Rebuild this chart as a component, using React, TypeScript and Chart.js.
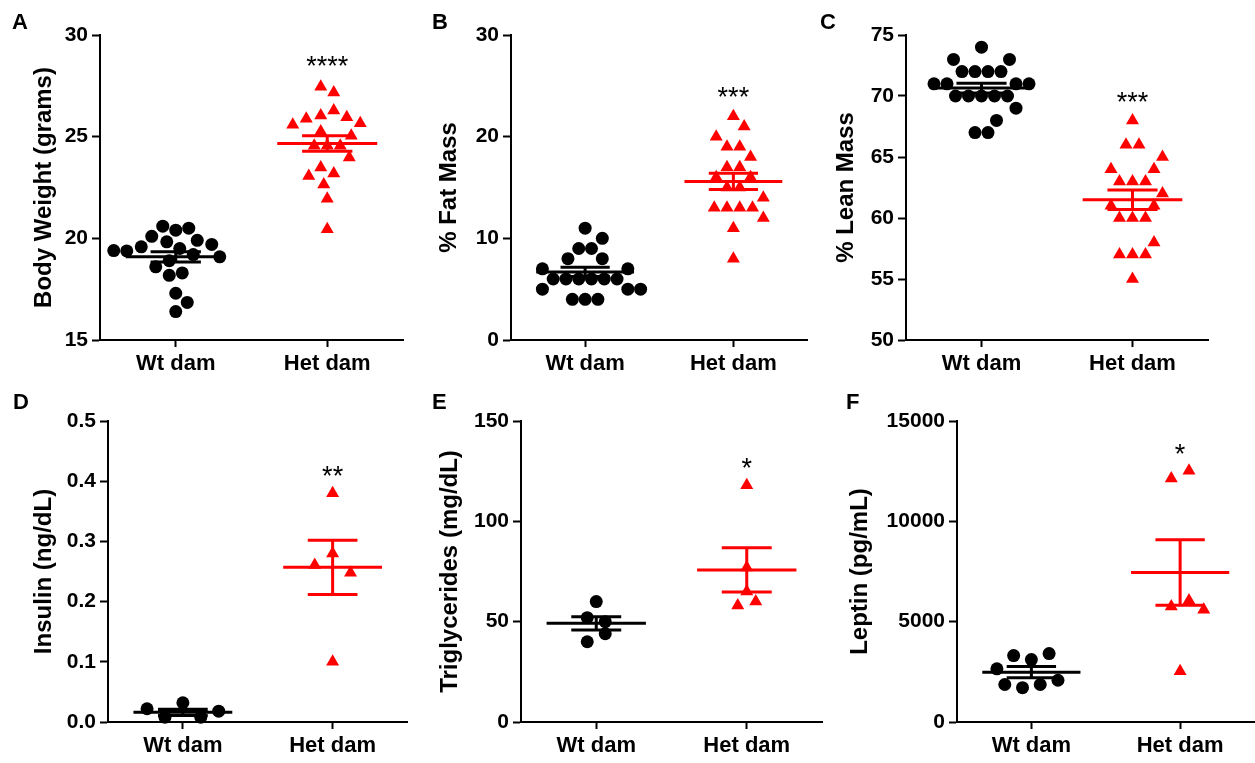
import React, { useEffect, useRef } from 'react';
import { Chart, registerables } from 'chart.js';

Chart.register(...registerables);

const FONT = "'Liberation Sans', Arial, Helvetica, sans-serif";
Chart.defaults.font.family = FONT;

// ---------- data ----------
const groupLabels = ['Wt dam', 'Het dam'];
const groupColors = ['#000000', '#ff0000'];

// A: body weight (grams)
const bodyWeightWt = [20.1, 20.6, 20.4, 20.5, 19.83, 19.58, 19.4, 19.38, 19.5, 19.7, 19.9, 19.2, 18.9, 19.09, 18.18, 18.3, 18.6, 16.85, 17.3, 16.4];
const bodyWeightHet = [27.45, 27.17, 26.04, 25.88, 25.96, 26.29, 25.58, 25.66, 25.26, 25.05, 24.55, 24.55, 24.55, 23.48, 23.97, 23.06, 22.65, 23.19, 21.95, 20.45];
const bodyWeightMean = [19.09, 24.66];
const bodyWeightSem = [0.25, 0.38];
const bodyWeightTicks = [15, 20, 25, 30];

// B: % fat mass
const fatWt = [11, 10, 9, 9, 8, 8, 7, 7, 6, 6, 6, 6, 6, 6, 5, 5, 5, 4, 4, 4];
const fatHet = [22, 21, 20, 19, 19, 18, 17, 17, 16, 16, 15, 15, 14, 13, 13, 13, 13, 12, 11, 8];
const fatMean = [6.7, 15.6];
const fatSem = [0.45, 0.8];
const fatTicks = [0, 10, 20, 30];

// C: % lean mass
const leanWt = [74, 73, 73, 72, 72, 72, 72, 71, 71, 71, 71, 70, 70, 70, 70, 70, 69, 68, 67, 67];
const leanHet = [68, 66, 66, 65, 64, 64, 63, 63, 63, 62, 61, 61, 60, 60, 60, 58, 57, 57, 57, 55];
const leanMean = [70.65, 61.5];
const leanSem = [0.4, 0.8];
const leanTicks = [50, 55, 60, 65, 70, 75];

// D: insulin (ng/dL)
const insulinWt = [0.022, 0.008, 0.032, 0.008, 0.018];
const insulinHet = [0.38, 0.261, 0.28, 0.248, 0.1];
const insulinMean = [0.016, 0.257];
const insulinSem = [0.005, 0.045];
const insulinTicks = [0, 0.1, 0.2, 0.3, 0.4, 0.5];

// E: triglycerides (mg/dL)
const trigWt = [60, 52, 50, 40, 44];
const trigHet = [118, 77, 65, 58, 60];
const trigMean = [49.2, 75.8];
const trigSem = [3.3, 11];
const trigTicks = [0, 50, 100, 150];

// F: leptin (pg/mL)
const leptinWt = [2650, 3310, 3110, 3410, 1870, 1710, 1870, 2080];
const leptinHet = [12140, 12520, 5760, 5600, 6060, 2530];
const leptinMean = [2480, 7450];
const leptinSem = [280, 1630];
const leptinTicks = [0, 5000, 10000, 15000];

const sigLabels = ['****', '***', '***', '**', '*', '*'];
const sigValues = [28.8, 24.5, 70, 0.42, 130, 13680];

// ---------- layout / style ----------
type Box = { x: number; y: number; w: number; h: number };
type Area = { l: number; t: number; r: number; b: number };
type Swarm = { gap: number; avoid: number; bin: number };
type PanelDef = {
  letter: string;
  title: string;
  wt: number[];
  het: number[];
  mean: number[];
  sem: number[];
  ticks: number[];
  fmt: (v: number) => string;
  sig: string;
  sigY: number;
  box: Box;
  area: Area;
  titleX: number;
  letterX: number;
  letterY: number;
  swarm: Swarm;
};

const X_MIN = 0.5;
const X_MAX = 2.5;
const DOT = 13; // marker diameter, px
const MEAN_HALF = 0.33;
const CAP_HALF = 0.166;
const TICK_FONT = 21;
const XTICK_FONT = 22;
const TITLE_FONT = 24;
const STAR_FONT = 27;

const intFmt = (v: number) => String(Math.round(v));
const topSwarm: Swarm = { gap: 13, avoid: 15, bin: 6 };

const panels: PanelDef[] = [
  { letter: 'A', title: 'Body Weight (grams)', wt: bodyWeightWt, het: bodyWeightHet, mean: bodyWeightMean, sem: bodyWeightSem, ticks: bodyWeightTicks, fmt: intFmt, sig: sigLabels[0], sigY: sigValues[0],
    box: { x: 0, y: 0, w: 415, h: 380 }, area: { l: 100, t: 35, r: 403, b: 340 }, titleX: 44, letterX: 12, letterY: 29, swarm: topSwarm },
  { letter: 'B', title: '% Fat Mass', wt: fatWt, het: fatHet, mean: fatMean, sem: fatSem, ticks: fatTicks, fmt: intFmt, sig: sigLabels[1], sigY: sigValues[1],
    box: { x: 420, y: 0, w: 395, h: 380 }, area: { l: 511, t: 35, r: 813, b: 340 }, titleX: 449, letterX: 432, letterY: 29, swarm: topSwarm },
  { letter: 'C', title: '% Lean Mass', wt: leanWt, het: leanHet, mean: leanMean, sem: leanSem, ticks: leanTicks, fmt: intFmt, sig: sigLabels[2], sigY: sigValues[2],
    box: { x: 815, y: 0, w: 440, h: 380 }, area: { l: 906, t: 35, r: 1208, b: 340 }, titleX: 846, letterX: 820, letterY: 29, swarm: topSwarm },
  { letter: 'D', title: 'Insulin (ng/dL)', wt: insulinWt, het: insulinHet, mean: insulinMean, sem: insulinSem, ticks: insulinTicks, fmt: (v) => v.toFixed(1), sig: sigLabels[3], sigY: sigValues[3],
    box: { x: 0, y: 380, w: 415, h: 383 }, area: { l: 108, t: 421, r: 409, b: 722 }, titleX: 44, letterX: 13, letterY: 409, swarm: { gap: 18, avoid: 12, bin: 20 } },
  { letter: 'E', title: 'Triglycerides (mg/dL)', wt: trigWt, het: trigHet, mean: trigMean, sem: trigSem, ticks: trigTicks, fmt: intFmt, sig: sigLabels[4], sigY: sigValues[4],
    box: { x: 420, y: 380, w: 410, h: 383 }, area: { l: 521, t: 421, r: 822, b: 722 }, titleX: 450, letterX: 432, letterY: 409, swarm: { gap: 18, avoid: 12, bin: 8.5 } },
  { letter: 'F', title: 'Leptin (pg/mL)', wt: leptinWt, het: leptinHet, mean: leptinMean, sem: leptinSem, ticks: leptinTicks, fmt: intFmt, sig: sigLabels[5], sigY: sigValues[5],
    box: { x: 830, y: 380, w: 432, h: 383 }, area: { l: 957, t: 421, r: 1259, b: 722 }, titleX: 860, letterX: 846, letterY: 409, swarm: { gap: 18, avoid: 18, bin: 8.5 } },
];

// Prism-like column scatter: points binned into rows, spread sideways to avoid overlap
function swarmOffsets(values: number[], pxPerUnit: number, sw: Swarm): number[] {
  const n = values.length;
  const ys = values.map((v) => v * pxPerUnit);
  const order = values.map((_, i) => i).sort((a, b) => values[b] - values[a] || a - b);
  const rows: number[][] = [];
  let start = Infinity;
  for (const i of order) {
    if (rows.length && start - ys[i] <= sw.bin) rows[rows.length - 1].push(i);
    else {
      rows.push([i]);
      start = ys[i];
    }
  }
  rows.forEach((r) => r.sort((a, b) => a - b));
  const rowOrder = rows.map((_, k) => k).sort((a, b) => rows[b].length - rows[a].length || a - b);
  const xs: number[] = new Array(n).fill(0);
  const placed: number[] = [];
  for (const k of rowOrder) {
    const r = rows[k];
    const m = r.length;
    const ideals = r.map((_, q) => (q - (m - 1) / 2) * sw.gap);
    const seq = ideals.map((_, q) => q).sort((a, b) => Math.abs(ideals[a]) - Math.abs(ideals[b]) || a - b);
    for (const q of seq) {
      const i = r[q];
      const ideal = ideals[q];
      const dir = ideal < 0 ? -1 : 1;
      const ok = (x: number) =>
        placed.every((j) => {
          const dx = x - xs[j];
          const dy = ys[i] - ys[j];
          const minD = r.includes(j) ? sw.gap : sw.avoid;
          return dx * dx + dy * dy >= minD * minD * 0.95;
        });
      let chosen = ideal;
      for (let s = 0; s < 300; s += 0.5) {
        const cands = Math.abs(ideal) < 1e-9 ? [s, -s] : [ideal + dir * s];
        const f = cands.find(ok);
        if (f !== undefined) {
          chosen = f;
          break;
        }
      }
      xs[i] = chosen;
      placed.push(i);
    }
  }
  return xs;
}

function buildConfig(p: PanelDef): any {
  const yMin = p.ticks[0];
  const yMax = p.ticks[p.ticks.length - 1];
  const plotH = p.area.b - p.area.t;
  const plotW = p.area.r - p.area.l;
  const yPx = plotH / (yMax - yMin);
  const xPx = plotW / (X_MAX - X_MIN);
  const series = [p.wt, p.het];
  const datasets = series.map((vals, g) => {
    const offs = swarmOffsets(vals, yPx, p.swarm);
    return {
      label: groupLabels[g],
      data: vals.map((v, i) => ({ x: g + 1 + offs[i] / xPx, y: v })),
      pointStyle: g === 0 ? 'circle' : 'triangle',
      pointRadius: g === 0 ? DOT / 2 : 7.5,
      pointBackgroundColor: groupColors[g],
      pointBorderColor: groupColors[g],
      pointBorderWidth: 0,
      showLine: false,
      clip: false,
    };
  });

  const overlay = {
    id: 'overlay' + p.letter,
    afterDatasetsDraw(chart: any) {
      const { ctx } = chart;
      const xs = chart.scales.x;
      const ys = chart.scales.y;
      ctx.save();
      p.mean.forEach((m: number, g: number) => {
        const c = g + 1;
        const yM = ys.getPixelForValue(m);
        const yHi = ys.getPixelForValue(m + p.sem[g]);
        const yLo = ys.getPixelForValue(m - p.sem[g]);
        const xc = xs.getPixelForValue(c);
        ctx.strokeStyle = groupColors[g];
        ctx.lineWidth = 3;
        ctx.lineCap = 'butt';
        ctx.beginPath();
        ctx.moveTo(xs.getPixelForValue(c - MEAN_HALF), yM);
        ctx.lineTo(xs.getPixelForValue(c + MEAN_HALF), yM);
        ctx.moveTo(xs.getPixelForValue(c - CAP_HALF), yHi);
        ctx.lineTo(xs.getPixelForValue(c + CAP_HALF), yHi);
        ctx.moveTo(xs.getPixelForValue(c - CAP_HALF), yLo);
        ctx.lineTo(xs.getPixelForValue(c + CAP_HALF), yLo);
        ctx.moveTo(xc, yHi);
        ctx.lineTo(xc, yLo);
        ctx.stroke();
      });
      ctx.fillStyle = '#000';
      ctx.font = `${STAR_FONT}px ${FONT}`;
      ctx.textAlign = 'center';
      ctx.textBaseline = 'alphabetic';
      ctx.fillText(p.sig, xs.getPixelForValue(2), ys.getPixelForValue(p.sigY) + 0.57 * STAR_FONT);
      ctx.font = `bold 22px ${FONT}`;
      ctx.textAlign = 'left';
      ctx.fillText(p.letter, p.letterX - p.box.x, p.letterY - p.box.y);
      ctx.restore();
    },
  };

  const titleLine = TITLE_FONT * 1.2;
  return {
    type: 'scatter',
    data: { datasets },
    options: {
      responsive: false,
      animation: false,
      events: [],
      layout: {
        padding: {
          top: p.area.t - p.box.y,
          right: p.box.x + p.box.w - p.area.r,
          left: 0,
          bottom: 0,
        },
      },
      plugins: { legend: { display: false }, tooltip: { enabled: false } },
      scales: {
        x: {
          type: 'linear',
          min: X_MIN,
          max: X_MAX,
          afterBuildTicks: (s: any) => {
            s.ticks = groupLabels.map((_, i) => ({ value: i + 1 }));
          },
          afterFit: (s: any) => {
            s.height = p.box.y + p.box.h - p.area.b;
          },
          ticks: {
            autoSkip: false,
            maxRotation: 0,
            padding: 4,
            color: '#000',
            font: { family: FONT, size: XTICK_FONT, weight: 'bold' },
            callback: (v: number) => groupLabels[Math.round(v) - 1] ?? '',
          },
          grid: { drawOnChartArea: false, drawTicks: true, tickLength: 7, tickWidth: 2, tickColor: '#000' },
          border: { display: true, color: '#000', width: 2 },
        },
        y: {
          type: 'linear',
          min: yMin,
          max: yMax,
          afterBuildTicks: (s: any) => {
            s.ticks = p.ticks.map((v) => ({ value: v }));
          },
          afterFit: (s: any) => {
            s.width = p.area.l - p.box.x;
          },
          ticks: {
            autoSkip: false,
            padding: 4,
            color: '#000',
            font: { family: FONT, size: TICK_FONT, weight: 'bold' },
            callback: (v: number) => p.fmt(v),
          },
          grid: { drawOnChartArea: false, drawTicks: true, tickLength: 8, tickWidth: 2, tickColor: '#000' },
          border: { display: true, color: '#000', width: 2 },
          title: {
            display: true,
            text: p.title,
            color: '#000',
            font: { family: FONT, size: TITLE_FONT, weight: 'bold' },
            padding: { top: p.titleX - p.box.x - titleLine / 2, bottom: 0 },
          },
        },
      },
    },
    plugins: [overlay],
  };
}

function PanelChart({ p }: { p: PanelDef }) {
  const ref = useRef<HTMLCanvasElement | null>(null);
  useEffect(() => {
    if (!ref.current) return;
    const chart = new Chart(ref.current, buildConfig(p));
    return () => chart.destroy();
  }, [p]);
  return (
    <canvas
      ref={ref}
      width={p.box.w}
      height={p.box.h}
      style={{ position: 'absolute', left: p.box.x, top: p.box.y, width: p.box.w, height: p.box.h }}
    />
  );
}

export default function App() {
  return (
    <div style={{ position: 'absolute', left: 0, top: 0, width: 1255, height: 763, overflow: 'hidden', background: '#ffffff' }}>
      {panels.map((p) => (
        <PanelChart key={p.letter} p={p} />
      ))}
    </div>
  );
}
